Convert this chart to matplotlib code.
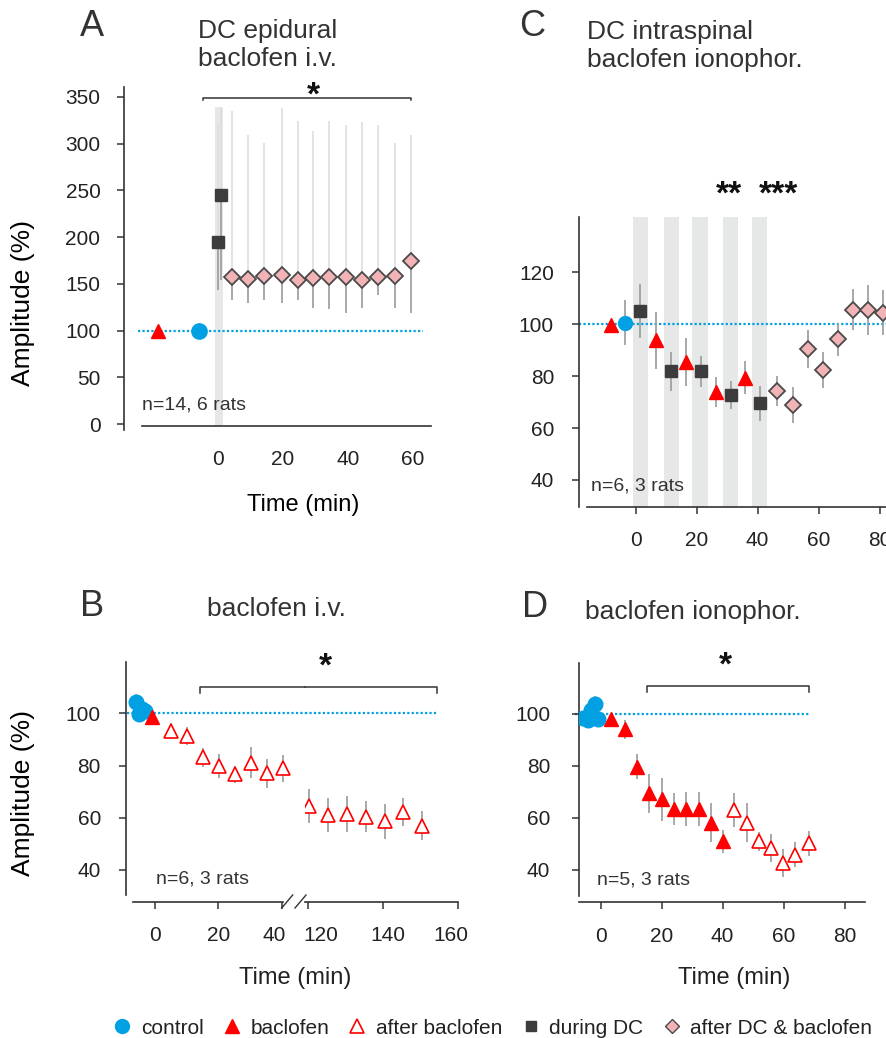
import matplotlib
matplotlib.use("Agg")
import matplotlib.pyplot as plt
from matplotlib.lines import Line2D
from matplotlib.transforms import ScaledTranslation

plt.rcParams['font.family'] = ['Liberation Sans', 'DejaVu Sans']
plt.rcParams['text.color'] = '#222222'
plt.rcParams['xtick.color'] = '#333333'
plt.rcParams['ytick.color'] = '#333333'
plt.rcParams['xtick.labelcolor'] = '#222222'
plt.rcParams['ytick.labelcolor'] = '#222222'

# ---------------- data ----------------
# A: DC epidural, baclofen i.v.
a_bac_t = [-18.5]
a_bac_v = [100]
a_ctrl_t = [-5.8]
a_ctrl_v = [100]
a_dc_t = [0.0, 0.9]
a_dc_v = [195, 245]
a_dc_hi = [321, 338]
a_dc_lo = [143, 154]
a_post_t = [4.4, 9.3, 14.2, 19.7, 24.6, 29.3, 34.2, 39.4, 44.4, 49.3, 54.3, 59.5]
a_post_v = [157, 155, 158, 160, 154, 156, 157, 157, 154, 157, 158, 175]
a_post_hi = [335, 309, 301, 338, 324, 313, 324, 320, 323, 320, 301, 309]
a_post_lo = [133, 130, 133, 130, 133, 124, 123, 119, 124, 138, 124, 119]
a_band = (-0.9, 1.5)

# C: DC intraspinal, baclofen ionophoresis
c_ctrl_t = [-3.5]
c_ctrl_v = [100.6]
c_ctrl_e = [8.8]
c_bac_t = [-8.2, 6.6, 16.5, 26.3, 36.0]
c_bac_v = [99.6, 93.8, 85.5, 74.0, 79.4]
c_bac_e = [0, 11, 9.3, 5.8, 6.3]
c_dc_t = [1.4, 11.6, 21.4, 31.3, 40.8]
c_dc_v = [105.1, 81.9, 81.9, 72.7, 69.5]
c_dc_e = [10.5, 7.5, 6.0, 5.4, 6.8]
c_post_t = [46.4, 51.5, 56.4, 61.5, 66.4, 71.3, 76.3, 81.2]
c_post_v = [74.2, 68.8, 90.3, 82.3, 94.2, 105.6, 105.4, 104.4]
c_post_e = [5.9, 7.0, 7.4, 7.0, 6.4, 7.8, 9.8, 8.7]
c_band_start = [-0.8, 9.3, 18.5, 28.5, 38.0]
c_band_end = [4.1, 14.3, 23.8, 33.6, 43.2]

# B: baclofen i.v.
b_ctrl_t = [-6.1, -5.2, -4.2, -3.1]
b_ctrl_v = [104.3, 99.6, 101.8, 100.8]
b_ctrl_e = [3, 3, 2.5, 2.5]
b_bac_t = [-1.1]
b_bac_v = [98.7]
b_bac_e = [1.5]
b_post_t = [5.0, 10.0, 15.1, 20.1, 25.3, 30.2, 35.3, 40.3,
            120.2, 125.2, 130.2, 135.3, 140.3, 145.3, 150.4]
b_post_v = [93.2, 91.3, 83.1, 79.8, 76.6, 81.1, 77.0, 78.9,
            64.6, 61.0, 61.4, 60.4, 58.7, 62.3, 57.0]
b_post_e = [3.2, 3.3, 3.8, 4.5, 3.2, 6.0, 5.6, 5.1,
            6.5, 6.6, 7.0, 5.9, 6.7, 5.4, 5.6]

# D: baclofen ionophoresis
d_ctrl_t = [-5.7, -4.1, -3.0, -1.9, -0.8]
d_ctrl_v = [98.3, 97.7, 101.5, 103.7, 97.9]
d_ctrl_e = [2, 2.5, 3, 3, 2]
d_bac_t = [3.3, 8.0, 12.0, 16.0, 20.0, 24.1, 28.0, 32.1, 36.2, 40.1]
d_bac_v = [98.1, 94.1, 79.7, 69.5, 67.2, 63.3, 63.3, 63.3, 58.2, 50.9]
d_bac_e = [1.5, 3.6, 4.8, 7.5, 8.3, 6.1, 6.5, 6.5, 7.5, 4.5]
d_post_t = [43.9, 48.0, 52.0, 56.0, 59.8, 63.9, 68.3]
d_post_v = [63.1, 58.2, 50.9, 48.3, 42.6, 45.8, 50.3]
d_post_e = [6.5, 7.5, 3.5, 5.3, 5.4, 4.8, 4.8]

legend_labels = ['control', 'baclofen', 'after baclofen', 'during DC', 'after DC & baclofen']

# ---------------- styles ----------------
BLUE = '#00a0e3'
RED = '#ff0000'
SQ = '#3c3c3c'
PINK = '#f2b3b6'
DEDGE = '#4a4a4a'
ERR = '#9a9a9a'
BAND = '#e6e8e8'
AXC = '#333333'

W, H = 887, 1038
fig = plt.figure(figsize=(W / 100, H / 100), dpi=100)


def add_ax(l, t, r, b):
    return fig.add_axes([l / W, 1 - b / H, (r - l) / W, (b - t) / H])


def ftext(x, y, s, **kw):
    fig.text(x / W, 1 - y / H, s, **kw)


def base_style(ax):
    ax.patch.set_visible(False)
    for s in ['top', 'right']:
        ax.spines[s].set_visible(False)
    for s in ['left', 'bottom']:
        ax.spines[s].set_color(AXC)
        ax.spines[s].set_linewidth(1.2)
    ax.tick_params(labelsize=15, width=1.1, length=5)


def errs(ax, t, v, e):
    ax.errorbar(t, v, yerr=e, fmt='none', ecolor=ERR, elinewidth=1.2, capsize=0, zorder=2)


def baseline(ax, x0, x1):
    ax.plot([x0, x1], [100, 100], color=BLUE, lw=1.6, ls=(0, (1, 1)), zorder=1, clip_on=False)


def bracket(ax, x0, x1, y, drop):
    ax.plot([x0, x0, x1, x1], [y - drop, y, y, y - drop], color=AXC, lw=1.1, clip_on=False)


def star(ax, x, y, s):
    ax.text(x, y, s, ha='center', va='baseline', fontsize=24, fontweight='bold',
            color='#111111', clip_on=False)


# ---------------- panel A ----------------
axA = add_ax(124, 87, 431, 430)
base_style(axA)
axA.set_xlim(-28.9, 65.5)
axA.set_ylim(-6.1, 360.4)
axA.spines['bottom'].set_position(('data', -1.8))
axA.spines['bottom'].set_bounds(-23.4, 65.5)
axA.set_yticks(range(0, 351, 50))
axA.set_xticks([0, 20, 40, 60])
axA.tick_params(axis='y', pad=12)
axA.tick_params(axis='x', length=0, pad=17)
axA.fill_betweenx([-1.8, 339], a_band[0], a_band[1], color=BAND, lw=0, zorder=0)
baseline(axA, -24.6, 63)
axA.vlines(a_dc_t + a_post_t, a_dc_v + a_post_v, a_dc_hi + a_post_hi, color='#dedede', lw=1.2, zorder=1)
axA.vlines(a_dc_t + a_post_t, a_dc_lo + a_post_lo, a_dc_v + a_post_v, color=ERR, lw=1.2, zorder=1)
axA.plot(a_bac_t, a_bac_v, ls='none', marker='^', ms=10, color=RED, zorder=4)
axA.plot(a_ctrl_t, a_ctrl_v, ls='none', marker='o', ms=11, color=BLUE, zorder=4)
axA.plot(a_dc_t, a_dc_v, ls='none', marker='s', ms=9, color=SQ, zorder=4)
axA.plot(a_post_t, a_post_v, ls='none', marker='D', ms=8, mfc=PINK, mec=DEDGE, mew=1.3, zorder=4)
bracket(axA, -4.6, 59.4, 349, 3)
star(axA, 29.2, 342, '*')
axA.set_ylabel('Amplitude (%)', fontsize=19, va='center')
axA.yaxis.set_label_coords((23 - 124) / 307, (430 - 303) / 343)
axA.set_xlabel('Time (min)', fontsize=17, va='center')
axA.xaxis.set_label_coords((303 - 124) / 307, (430 - 505) / 343)

# ---------------- panel C ----------------
axC = add_ax(579, 217, 900, 507)
base_style(axC)
axC.set_xlim(-18.6, 86.7)
axC.set_ylim(29.6, 141.2)
axC.spines['bottom'].set_bounds(-16.1, 86.7)
axC.set_yticks([40, 60, 80, 100, 120])
axC.set_xticks([0, 20, 40, 60, 80])
axC.tick_params(axis='y', pad=13)
axC.tick_params(axis='x', pad=12)
for s0, s1 in zip(c_band_start, c_band_end):
    axC.axvspan(s0, s1, color=BAND, lw=0, zorder=0)
baseline(axC, -18.6, 86.7)
errs(axC, c_ctrl_t, c_ctrl_v, c_ctrl_e)
errs(axC, c_bac_t, c_bac_v, c_bac_e)
errs(axC, c_dc_t, c_dc_v, c_dc_e)
errs(axC, c_post_t, c_post_v, c_post_e)
axC.plot(c_bac_t, c_bac_v, ls='none', marker='^', ms=9.6, color=RED, zorder=4)
axC.plot(c_ctrl_t, c_ctrl_v, ls='none', marker='o', ms=10, color=BLUE, zorder=4)
axC.plot(c_dc_t, c_dc_v, ls='none', marker='s', ms=8.7, color=SQ, zorder=4)
axC.plot(c_post_t, c_post_v, ls='none', marker='D', ms=8, mfc=PINK, mec=DEDGE, mew=1.3, zorder=4)
star(axC, 30.6, 146.5, '**')
star(axC, 46.7, 146.5, '***')

# ---------------- panel B (broken x axis) ----------------
axBl = add_ax(126, 661.7, 305, 901.7)
axBr = add_ax(305, 661.7, 460.3, 901.7)
for ax in (axBl, axBr):
    base_style(ax)
    ax.set_ylim(27.8, 119.8)
    ax.tick_params(axis='x', pad=12.5)
axBl.set_xlim(-9.16, 47.4)
axBr.set_xlim(119.1, 160.5)
axBl.spines['left'].set_bounds(30.4, 119.8)
axBl.spines['bottom'].set_bounds(-7.05, 40.6)
axBr.spines['left'].set_visible(False)
axBr.spines['bottom'].set_bounds(119.1, 160)
axBr.tick_params(axis='y', left=False, labelleft=False)
axBl.set_yticks([40, 60, 80, 100])
axBl.tick_params(axis='y', pad=13)
axBl.set_xticks([0, 20, 40])
axBr.set_xticks([120, 140, 160])
for ax, i, dx in [(axBl, 2, -7), (axBr, 0, 12), (axBr, 1, 4), (axBr, 2, -8)]:
    lab = ax.get_xticklabels()[i]
    lab.set_transform(lab.get_transform() + ScaledTranslation(dx / 100, 0, fig.dpi_scale_trans))
# break marks
for x0 in (281.7, 295.0):
    fig.add_artist(Line2D([x0 / W, (x0 + 11) / W], [1 - 908 / H, 1 - 895 / H], color=AXC, lw=1.0))
baseline(axBl, -9.0, 47.4)
baseline(axBr, 119.1, 154.2)
for ax in (axBl, axBr):
    errs(ax, b_ctrl_t, b_ctrl_v, b_ctrl_e)
    errs(ax, b_bac_t, b_bac_v, b_bac_e)
    errs(ax, b_post_t, b_post_v, b_post_e)
    ax.plot(b_ctrl_t, b_ctrl_v, ls='none', marker='o', ms=10.5, color=BLUE, zorder=4)
    ax.plot(b_bac_t, b_bac_v, ls='none', marker='^', ms=9.6, color=RED, zorder=4)
    ax.plot(b_post_t, b_post_v, ls='none', marker='^', ms=9.6, mfc='white', mec=RED, mew=1.2, zorder=4)
axBl.plot([14.2, 14.2, 47.4], [107.8, 110.2, 110.2], color=AXC, lw=1.1, clip_on=False)
axBr.plot([119.1, 154.2, 154.2], [110.2, 110.2, 107.8], color=AXC, lw=1.1, clip_on=False)
star(axBr, 124.5, 114.3, '*')
axBl.set_ylabel('Amplitude (%)', fontsize=19, va='center')
axBl.yaxis.set_label_coords((23 - 126) / 179, (901.7 - 793) / 240)
ftext(295, 978.3, 'Time (min)', fontsize=17, ha='center', va='center')

# ---------------- panel D ----------------
axD = add_ax(579.3, 662.7, 865, 902.3)
base_style(axD)
axD.set_xlim(-7.0, 86.7)
axD.set_ylim(27.5, 119.7)
axD.spines['left'].set_bounds(29.8, 119.7)
axD.set_yticks([40, 60, 80, 100])
axD.set_xticks([0, 20, 40, 60, 80])
axD.tick_params(axis='y', pad=16)
axD.tick_params(axis='x', pad=12.5)
baseline(axD, -8.4, 68.4)
errs(axD, d_ctrl_t, d_ctrl_v, d_ctrl_e)
errs(axD, d_bac_t, d_bac_v, d_bac_e)
errs(axD, d_post_t, d_post_v, d_post_e)
axD.plot(d_ctrl_t, d_ctrl_v, ls='none', marker='o', ms=10.5, color=BLUE, zorder=4)
axD.plot(d_bac_t, d_bac_v, ls='none', marker='^', ms=9.6, color=RED, zorder=4)
axD.plot(d_post_t, d_post_v, ls='none', marker='^', ms=9.6, mfc='white', mec=RED, mew=1.2, zorder=4)
bracket(axD, 15.3, 68.4, 110.8, 2.3)
star(axD, 41.0, 115.0, '*')
ftext(734, 978.3, 'Time (min)', fontsize=17, ha='center', va='center')

# ---------------- titles, letters, n labels ----------------
for x, y, s in [(80, 36, 'A'), (519, 36, 'C'), (80, 616, 'B'), (521.7, 617, 'D')]:
    ftext(x, y, s, fontsize=26, va='baseline', color='#333333')
# multi-line titles: baseline refers to the last line
ftext(198, 65.7, 'DC epidural\nbaclofen i.v.', fontsize=19, va='baseline', color='#333333')
ftext(586.7, 66.7, 'DC intraspinal\nbaclofen ionophor.', fontsize=19, va='baseline', color='#333333')
ftext(207.3, 616, 'baclofen i.v.', fontsize=19, va='baseline', color='#333333')
ftext(585, 619, 'baclofen ionophor.', fontsize=19, va='baseline', color='#333333')
ftext(142, 410, 'n=14, 6 rats', fontsize=14, va='baseline', color='#333333')
ftext(591, 490, 'n=6, 3 rats', fontsize=14, va='baseline', color='#333333')
ftext(155.7, 883.3, 'n=6, 3 rats', fontsize=14, va='baseline', color='#333333')
ftext(597.3, 884.3, 'n=5, 3 rats', fontsize=14, va='baseline', color='#333333')

# ---------------- legend ----------------
handles = [
    Line2D([], [], ls='none', marker='o', ms=10, color=BLUE),
    Line2D([], [], ls='none', marker='^', ms=9.5, color=RED),
    Line2D([], [], ls='none', marker='^', ms=9.5, mfc='white', mec=RED, mew=1.2),
    Line2D([], [], ls='none', marker='s', ms=7, color=SQ),
    Line2D([], [], ls='none', marker='D', ms=7.5, mfc=PINK, mec=DEDGE, mew=1.0),
]
fig.legend(handles, legend_labels, loc='center', bbox_to_anchor=(493 / W, 1 - 1028 / H),
           ncol=5, frameon=False, fontsize=15, handlelength=0.8, handletextpad=0.5,
           columnspacing=0.95, borderaxespad=0, borderpad=0)

fig.savefig('out.png', dpi=100)
